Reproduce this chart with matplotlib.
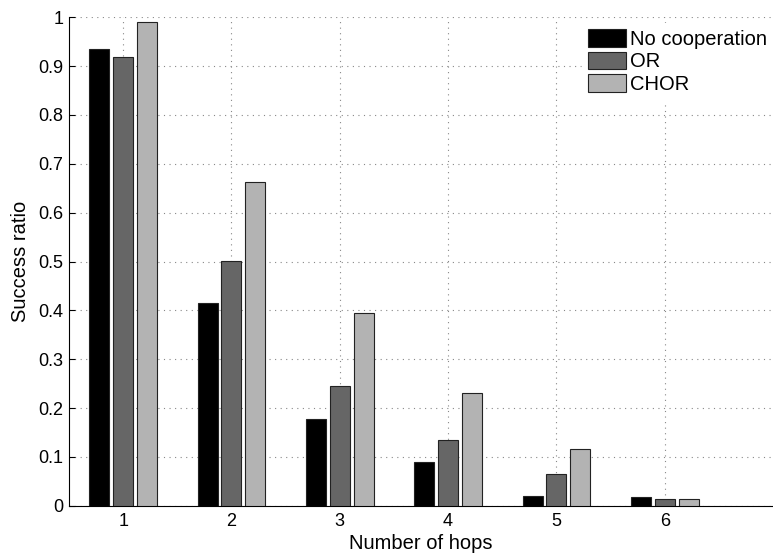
import matplotlib
matplotlib.use("Agg")
import matplotlib.pyplot as plt
import numpy as np

plt.rcParams['font.family'] = ['Liberation Sans', 'DejaVu Sans']

hops = [1, 2, 3, 4, 5, 6]
series_names = ["No cooperation", "OR", "CHOR"]
no_coop = [0.936, 0.416, 0.177, 0.090, 0.020, 0.017]
or_vals = [0.919, 0.502, 0.245, 0.135, 0.064, 0.013]
chor_vals = [0.990, 0.663, 0.394, 0.230, 0.117, 0.013]
colors = ["#000000", "#666666", "#b3b3b3"]
yticks = [0, 0.1, 0.2, 0.3, 0.4, 0.5, 0.6, 0.7, 0.8, 0.9, 1]
ytick_labels = ["0", "0.1", "0.2", "0.3", "0.4", "0.5", "0.6", "0.7", "0.8", "0.9", "1"]

fig = plt.figure(figsize=(7.73, 5.55), dpi=100)
ax = fig.add_axes([69/773, 1-505.7/555, 1-69/773, (505.7-17.3)/555])

x = np.array(hops, dtype=float)
offset = 0.22
width = 0.185
for i, (vals, c, name) in enumerate(zip([no_coop, or_vals, chor_vals], colors, series_names)):
    ax.bar(x + (i-1)*offset, vals, width=width, color=c, edgecolor="#222222",
           linewidth=0.8, label=name, zorder=3)

ax.set_xlim(0.5, 7.0)
ax.set_ylim(0, 1)
ax.set_xticks(hops)
ax.set_xticklabels([str(h) for h in hops])
ax.set_yticks(yticks)
ax.set_yticklabels(ytick_labels)
ax.tick_params(direction='in', labelsize=13, length=4, top=False, right=False)
ax.tick_params(axis='x', pad=5)
ax.tick_params(axis='y', pad=4)
ax.grid(True, linestyle=(0, (1, 4)), color='#888888', linewidth=0.8, zorder=0)
ax.set_axisbelow(True)
ax.spines['top'].set_visible(False)
ax.spines['right'].set_visible(False)
ax.set_xlabel("Number of hops", fontsize=14.5, labelpad=3)
ax.set_ylabel("Success ratio", fontsize=14.5, labelpad=6)

leg = ax.legend(loc='upper left', bbox_to_anchor=(0.7287, 0.988), fontsize=14.5,
                handlelength=1.9, handleheight=0.95, labelspacing=0.15,
                handletextpad=0.2, borderpad=0.3, borderaxespad=0,
                frameon=True, fancybox=False,
                edgecolor='white', facecolor='white', framealpha=1.0)
leg.set_zorder(5)

fig.savefig("out.png", dpi=100)
